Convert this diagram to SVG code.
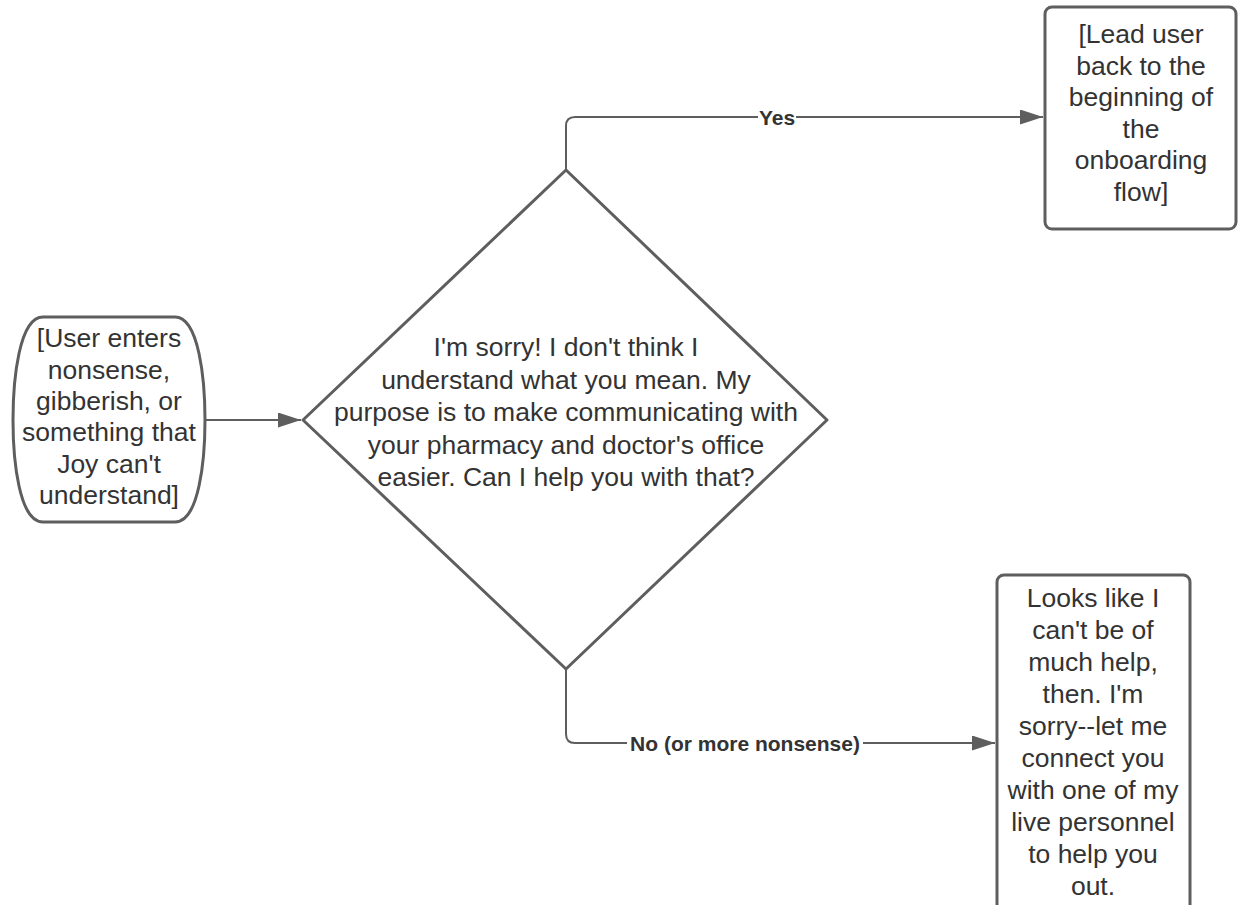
<svg xmlns="http://www.w3.org/2000/svg" width="1238" height="905" viewBox="0 0 1238 905">
  <style>
    .shape { fill: #ffffff; stroke: #5e5e5e; stroke-width: 3; stroke-linejoin: round; }
    .txt { font-family: "Liberation Sans", Arial, sans-serif; font-size: 26.5px; fill: #333333; text-anchor: middle; }
    .lbl { font-family: "Liberation Sans", Arial, sans-serif; font-size: 21px; font-weight: bold; fill: #333333; text-anchor: middle; }
    .conn { fill: none; stroke: #5e5e5e; stroke-width: 2; }
    .lblbg { fill: #ffffff; }
  </style>
  <defs>
    <marker id="arrow" markerUnits="userSpaceOnUse" markerWidth="24" markerHeight="16" refX="23" refY="7.5" orient="auto">
      <polygon points="0,0 23,7.5 0,15" fill="#5e5e5e"/>
    </marker>
  </defs>
  <rect width="1238" height="905" fill="#ffffff"/>

  <g id="connectors">
    <path class="conn" d="M205,420 H301" marker-end="url(#arrow)"/>
    <path class="conn" d="M566,170 V126 Q566,117 575,117 H1043" marker-end="url(#arrow)"/>
    <path class="conn" d="M566,669 V734 Q566,743 575,743 H995" marker-end="url(#arrow)"/>
    <rect class="lblbg" x="758" y="106" width="38" height="22"/>
    <text class="lbl" x="777" y="124.5">Yes</text>
    <rect class="lblbg" x="627" y="732" width="236" height="22"/>
    <text class="lbl" x="745" y="750.5">No (or more nonsense)</text>
  </g>

  <g id="node-start">
    <path class="shape" d="M43,317 H175 C199,317 205,380 205,420 C205,460 199,522 175,522 H43 C19,522 13,460 13,420 C13,380 19,317 43,317 Z"/>
    <text class="txt" x="109" y="347">[User enters</text>
    <text class="txt" x="109" y="378.5">nonsense,</text>
    <text class="txt" x="109" y="410">gibberish, or</text>
    <text class="txt" x="109" y="441">something that</text>
    <text class="txt" x="109" y="472.5">Joy can't</text>
    <text class="txt" x="109" y="504">understand]</text>
  </g>

  <g id="node-decision">
    <polygon class="shape" points="566,170 827,420 566,669 303,420"/>
    <text class="txt" x="566" y="356">I'm sorry! I don't think I</text>
    <text class="txt" x="566" y="388.5">understand what you mean. My</text>
    <text class="txt" x="566" y="421">purpose is to make communicating with</text>
    <text class="txt" x="566" y="453.5">your pharmacy and doctor's office</text>
    <text class="txt" x="566" y="486">easier. Can I help you with that?</text>
  </g>

  <g id="node-yes">
    <rect class="shape" x="1045" y="7" width="191" height="222" rx="7"/>
    <text class="txt" x="1141" y="43">[Lead user</text>
    <text class="txt" x="1141" y="74.5">back to the</text>
    <text class="txt" x="1141" y="106">beginning of</text>
    <text class="txt" x="1141" y="137.5">the</text>
    <text class="txt" x="1141" y="169">onboarding</text>
    <text class="txt" x="1141" y="200.5">flow]</text>
  </g>

  <g id="node-no">
    <rect class="shape" x="997" y="575" width="193" height="340" rx="7"/>
    <text class="txt" x="1093" y="607">Looks like I</text>
    <text class="txt" x="1093" y="639">can't be of</text>
    <text class="txt" x="1093" y="671">much help,</text>
    <text class="txt" x="1093" y="703">then. I'm</text>
    <text class="txt" x="1093" y="735">sorry--let me</text>
    <text class="txt" x="1093" y="767">connect you</text>
    <text class="txt" x="1093" y="799">with one of my</text>
    <text class="txt" x="1093" y="831">live personnel</text>
    <text class="txt" x="1093" y="863">to help you</text>
    <text class="txt" x="1093" y="895">out.</text>
  </g>
</svg>
